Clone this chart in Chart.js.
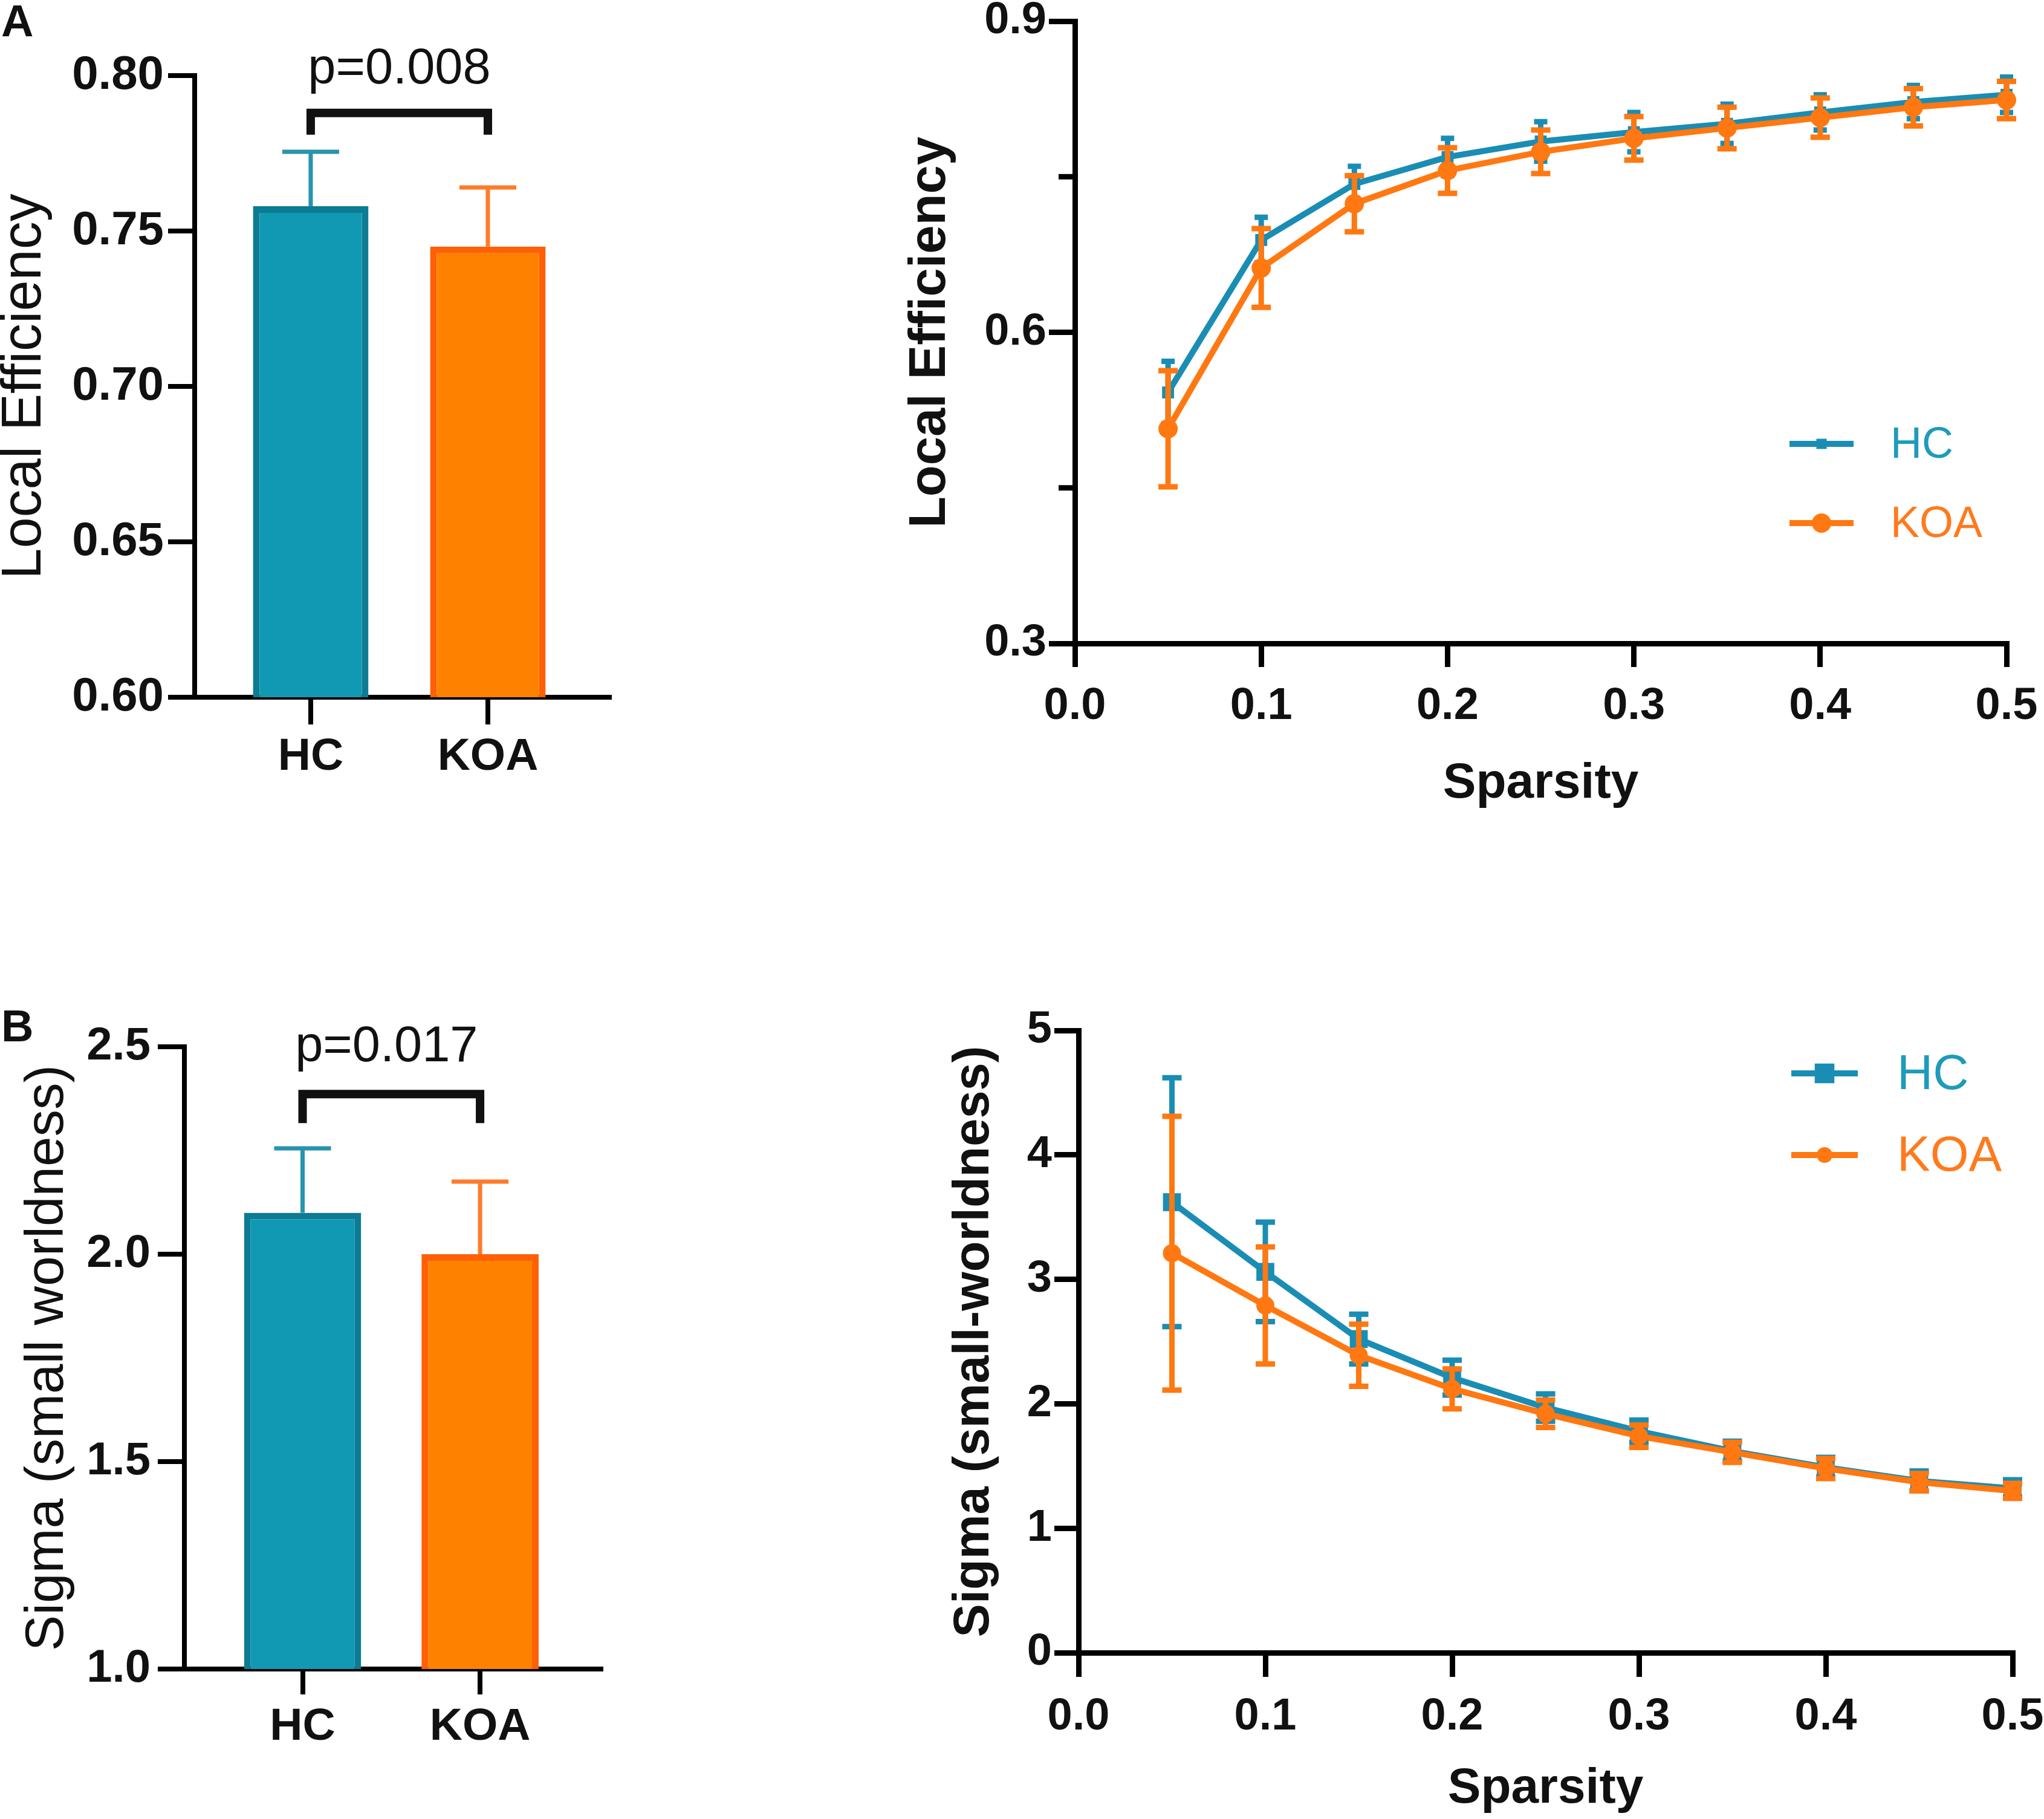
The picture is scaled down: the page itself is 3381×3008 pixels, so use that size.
<!DOCTYPE html>
<html><head><meta charset="utf-8">
<script src="https://cdn.jsdelivr.net/npm/chart.js@4.4.1/dist/chart.umd.min.js"></script>
<style>
html,body{margin:0;padding:0;background:#fff;overflow:hidden;width:3381px;height:3008px;position:relative;}
canvas{position:absolute;left:-300px;top:-300px;width:3981px;height:3608px;}
</style></head><body>
<canvas id="aBar" width="3981" height="3608"></canvas>
<canvas id="aLine" width="3981" height="3608"></canvas>
<canvas id="bBar" width="3981" height="3608"></canvas>
<canvas id="bLine" width="3981" height="3608"></canvas>
<script>
// ---------------- data ----------------
const groups = ['HC', 'KOA'];
const groupPos = [1, 2];
const leBarMean = [0.758, 0.745];
const leBarSD = [0.0175, 0.019];
const sigmaBarMean = [2.10, 2.00];
const sigmaBarSD = [0.155, 0.175];
const pLE = 'p=0.008';
const pSigma = 'p=0.017';

const sparsity = [0.05, 0.10, 0.15, 0.20, 0.25, 0.30, 0.35, 0.40, 0.45, 0.50];
const leHC = [0.542, 0.689, 0.743, 0.769, 0.784, 0.793, 0.801, 0.812, 0.822, 0.829];
const leHCsd = [0.030, 0.022, 0.017, 0.018, 0.019, 0.019, 0.019, 0.017, 0.016, 0.017];
const leKOA = [0.507, 0.662, 0.724, 0.756, 0.774, 0.787, 0.797, 0.807, 0.817, 0.824];
const leKOAsd = [0.056, 0.038, 0.027, 0.022, 0.021, 0.021, 0.020, 0.019, 0.018, 0.018];
const sigHC = [3.62, 3.06, 2.52, 2.21, 1.97, 1.78, 1.62, 1.49, 1.38, 1.32];
const sigHCsd = [1.00, 0.40, 0.20, 0.14, 0.11, 0.09, 0.08, 0.08, 0.08, 0.07];
const sigKOA = [3.21, 2.79, 2.39, 2.12, 1.92, 1.74, 1.61, 1.48, 1.37, 1.30];
const sigKOAsd = [1.10, 0.47, 0.25, 0.16, 0.11, 0.09, 0.08, 0.08, 0.07, 0.06];

const leBarTicks = [0.60, 0.65, 0.70, 0.75, 0.80];
const sigBarTicks = [1.0, 1.5, 2.0, 2.5];
const leLineTicks = [0.3, 0.6, 0.9];
const leLineMinor = [0.45, 0.75];
const sigLineTicks = [0, 1, 2, 3, 4, 5];
const sparsityTicks = [0.0, 0.1, 0.2, 0.3, 0.4, 0.5];

// ---------------- styles ----------------
const FONT = '"Liberation Sans", Arial, Helvetica, sans-serif';
const INK = '#111111';
const C = {
  hcFill: '#1199b4', hcBorder: '#0c7b93', hcErr: '#2794ad',
  koaFill: '#ff8100', koaBorder: '#ff5f05', koaErr: '#ff7b2a',
  hcLine: '#1a8db4', koaLine: '#ff7811', hcText: '#1e9bbb', koaText: '#ff7a1c'
};
const OFF = 300, CW = 3981, CH = 3608;

function frame(area, yTitle, xTitle) {
  const yW = area.l + 100;
  const xH = 300;
  return {
    layout: { padding: { left: OFF - 100, top: area.t + OFF, right: CW - (area.r + OFF), bottom: CH - (area.b + OFF) - xH } },
    yW, xH,
    yTitlePad: yTitle.x + 100 - yTitle.size * 1.2 / 2,
    xTitlePad: xTitle ? (area.b + xH) - xTitle.y - xTitle.size * 1.2 / 2 : 0
  };
}

// ---------------- plugins ----------------
const errorBars = {
  id: 'errorBars',
  afterDatasetDraw(chart, args) {
    const ds = chart.data.datasets[args.index];
    if (!ds.errors) return;
    const ctx = chart.ctx, yS = chart.scales.y;
    ctx.save();
    ctx.lineCap = 'butt';
    args.meta.data.forEach((el, i) => {
      const mean = ds.data[i].y, e = ds.errors[i];
      const col = Array.isArray(ds.errColor) ? ds.errColor[i] : ds.errColor;
      ctx.strokeStyle = col;
      ctx.lineWidth = ds.errWidth;
      const x = el.x;
      const yTop = yS.getPixelForValue(mean + e);
      const yMid = yS.getPixelForValue(mean);
      const yBot = ds.upOnly ? yMid : yS.getPixelForValue(mean - e);
      ctx.beginPath();
      ctx.moveTo(x, yBot); ctx.lineTo(x, yTop);
      ctx.moveTo(x - ds.capHalf, yTop); ctx.lineTo(x + ds.capHalf, yTop);
      if (!ds.upOnly) { ctx.moveTo(x - ds.capHalf, yBot); ctx.lineTo(x + ds.capHalf, yBot); }
      ctx.stroke();
    });
    ctx.restore();
  }
};

const sigBracket = {
  id: 'sigBracket',
  afterDraw(chart, args, o) {
    if (!o || !o.text) return;
    const ctx = chart.ctx, xS = chart.scales.x, yS = chart.scales.y;
    const xl = xS.getPixelForValue(groupPos[0]), xr = xS.getPixelForValue(groupPos[1]);
    const yb = yS.getPixelForValue(o.y), yl = yS.getPixelForValue(o.leg);
    ctx.save();
    ctx.strokeStyle = INK; ctx.lineWidth = o.lineWidth; ctx.lineJoin = 'miter'; ctx.lineCap = 'butt';
    ctx.beginPath();
    ctx.moveTo(xl, yl); ctx.lineTo(xl, yb); ctx.lineTo(xr, yb); ctx.lineTo(xr, yl);
    ctx.stroke();
    ctx.fillStyle = INK; ctx.font = `400 ${o.size}px ${FONT}`;
    ctx.textAlign = 'center'; ctx.textBaseline = 'alphabetic';
    ctx.fillText(o.text, (xl + xr) / 2 + (o.dx || 0), yS.getPixelForValue(o.textY));
    ctx.restore();
  }
};

const panelLetter = {
  id: 'panelLetter',
  afterDraw(chart, args, o) {
    if (!o || !o.text) return;
    const ctx = chart.ctx;
    ctx.save();
    ctx.fillStyle = INK; ctx.font = `700 ${o.size}px ${FONT}`;
    ctx.textAlign = 'left'; ctx.textBaseline = 'alphabetic';
    ctx.fillText(o.text, o.x + OFF, o.y + OFF);
    ctx.restore();
  }
};

const minorTicks = {
  id: 'minorTicks',
  afterDraw(chart, args, o) {
    if (!o || !o.values) return;
    const ctx = chart.ctx, yS = chart.scales.y, left = chart.chartArea.left;
    ctx.save();
    ctx.strokeStyle = '#000'; ctx.lineWidth = o.width;
    o.values.forEach(v => {
      const y = yS.getPixelForValue(v);
      ctx.beginPath(); ctx.moveTo(left - o.len, y); ctx.lineTo(left, y); ctx.stroke();
    });
    ctx.restore();
  }
};

const seriesLegend = {
  id: 'seriesLegend',
  afterDraw(chart, args, o) {
    if (!o || !o.ys) return;
    const ctx = chart.ctx;
    ctx.save();
    chart.data.datasets.forEach((ds, i) => {
      const y = o.ys[i] + OFF, x1 = o.x1 + OFF, x2 = o.x2 + OFF, xm = (x1 + x2) / 2;
      ctx.strokeStyle = ds.borderColor; ctx.lineWidth = o.lineWidth;
      ctx.beginPath(); ctx.moveTo(x1, y); ctx.lineTo(x2, y); ctx.stroke();
      ctx.fillStyle = ds.borderColor;
      const r = o.markerR[i];
      if (ds.pointStyle === 'rect') {
        const s = Math.SQRT1_2 * r;
        ctx.fillRect(xm - s, y - s, 2 * s, 2 * s);
      } else {
        ctx.beginPath(); ctx.arc(xm, y, r, 0, Math.PI * 2); ctx.fill();
      }
      ctx.fillStyle = ds.textColor;
      ctx.font = `400 ${o.size}px ${FONT}`;
      ctx.textAlign = 'left'; ctx.textBaseline = 'middle';
      ctx.fillText(ds.label, o.textX + OFF, y + 3);
    });
    ctx.restore();
  }
};

const PLUGINS = [errorBars, sigBracket, panelLetter, minorTicks, seriesLegend];

function axisCommon(lw, tickLen) {
  return {
    offset: false,
    grid: { display: true, offset: false, drawOnChartArea: false, drawTicks: true, tickLength: tickLen, lineWidth: lw, tickWidth: lw, color: '#000', tickColor: '#000' },
    border: { display: true, color: '#000', width: lw }
  };
}

// ---------------- bar chart builder ----------------
function barChart(id, cfg) {
  const f = frame(cfg.area, cfg.yTitle, null);
  return new Chart(document.getElementById(id), {
    type: 'bar',
    data: {
      datasets: [{
        label: cfg.yTitle.text,
        data: groupPos.map((p, i) => ({ x: p, y: cfg.means[i] })),
        errors: cfg.sds,
        upOnly: true,
        errColor: [C.hcErr, C.koaErr],
        errWidth: 7,
        capHalf: 47,
        backgroundColor: [C.hcFill, C.koaFill],
        borderColor: [C.hcBorder, C.koaBorder],
        borderWidth: 11,
        barPercentage: cfg.barPct,
        categoryPercentage: 1
      }]
    },
    options: {
      responsive: false, animation: false, devicePixelRatio: 1, events: [],
      layout: f.layout,
      plugins: {
        legend: { display: false }, tooltip: { enabled: false },
        sigBracket: cfg.bracket,
        panelLetter: cfg.letter
      },
      scales: {
        x: Object.assign(axisCommon(8, cfg.xTickLen), {
          type: 'linear', min: cfg.xMin, max: cfg.xMax,
          afterBuildTicks: s => { s.ticks = groupPos.map(v => ({ value: v })); },
          afterFit: s => { s.height = f.xH; },
          ticks: { callback: (v, i) => groups[i], font: { family: FONT, size: 75, weight: '700' }, color: INK, padding: cfg.xPad, maxRotation: 0, autoSkip: false }
        }),
        y: Object.assign(axisCommon(8, cfg.yTickLen), {
          type: 'linear', min: cfg.yMin, max: cfg.yMax,
          afterBuildTicks: s => { s.ticks = cfg.yTicks.map(v => ({ value: v })); },
          afterFit: s => { s.width = f.yW; },
          ticks: { callback: v => v.toFixed(cfg.yDec), font: { family: FONT, size: cfg.yFont, weight: '700' }, color: INK, padding: cfg.yPad },
          title: { display: true, text: cfg.yTitle.text, color: INK, font: { family: FONT, size: cfg.yTitle.size, weight: '400' }, padding: { top: f.yTitlePad, bottom: 0 } }
        })
      }
    },
    plugins: PLUGINS
  });
}

// ---------------- line chart builder ----------------
function lineChart(id, cfg) {
  const f = frame(cfg.area, cfg.yTitle, cfg.xTitle);
  const mk = (label, vals, sds, color, textColor, style, r, cap, order) => ({
    label, order,
    data: sparsity.map((s, i) => ({ x: s, y: vals[i] })),
    errors: sds, errColor: color, errWidth: 9, capHalf: cap, upOnly: false,
    borderColor: color, backgroundColor: color, textColor,
    borderWidth: 10, tension: 0, clip: false,
    pointStyle: style, pointRadius: r, pointBorderWidth: 0, pointBackgroundColor: color
  });
  return new Chart(document.getElementById(id), {
    type: 'line',
    data: {
      datasets: [
        mk('HC', cfg.hc, cfg.hcSd, C.hcLine, C.hcText, 'rect', cfg.hcR, cfg.hcCap, 2),
        mk('KOA', cfg.koa, cfg.koaSd, C.koaLine, C.koaText, 'circle', cfg.koaR, cfg.koaCap, 1)
      ]
    },
    options: {
      responsive: false, animation: false, devicePixelRatio: 1, events: [],
      layout: f.layout,
      plugins: {
        legend: { display: false }, tooltip: { enabled: false },
        seriesLegend: cfg.legend,
        minorTicks: cfg.minor
      },
      scales: {
        x: Object.assign(axisCommon(9, cfg.xTickLen), {
          type: 'linear', min: 0, max: 0.5,
          afterBuildTicks: s => { s.ticks = sparsityTicks.map(v => ({ value: v })); },
          afterFit: s => { s.height = f.xH; },
          ticks: { callback: v => v.toFixed(1), font: { family: FONT, size: 74, weight: '700' }, color: INK, padding: cfg.xPad, maxRotation: 0, autoSkip: false },
          title: { display: true, text: 'Sparsity', color: INK, font: { family: FONT, size: cfg.xTitle.size, weight: '700' }, padding: { top: 0, bottom: f.xTitlePad } }
        }),
        y: Object.assign(axisCommon(9, cfg.yTickLen), {
          type: 'linear', min: cfg.yMin, max: cfg.yMax,
          afterBuildTicks: s => { s.ticks = cfg.yTicks.map(v => ({ value: v })); },
          afterFit: s => { s.width = f.yW; },
          ticks: { callback: v => v.toFixed(cfg.yDec), font: { family: FONT, size: 74, weight: '700' }, color: INK, padding: cfg.yPad },
          title: { display: true, text: cfg.yTitle.text, color: INK, font: { family: FONT, size: cfg.yTitle.size, weight: '700' }, padding: { top: f.yTitlePad, bottom: 0 } }
        })
      }
    },
    plugins: PLUGINS
  });
}

// ---------------- panel A ----------------
barChart('aBar', {
  area: { l: 322, r: 1008, t: 125, b: 1153 },
  yTitle: { text: 'Local Efficiency', x: 42, size: 92 },
  means: leBarMean, sds: leBarSD,
  xMin: 0.345, xMax: 2.686, barPct: 0.652,
  yMin: 0.6, yMax: 0.8, yTicks: leBarTicks, yDec: 2, yFont: 78,
  yTickLen: 44, yPad: 7, xTickLen: 45, xPad: 9,
  bracket: { y: 0.788, leg: 0.781, textY: 0.7975, text: pLE, size: 83, lineWidth: 14 },
  letter: { text: 'A', x: 2, y: 60, size: 74 }
});

lineChart('aLine', {
  area: { l: 1778, r: 3319, t: 35, b: 1064 },
  yTitle: { text: 'Local Efficiency', x: 1540, size: 85 },
  xTitle: { y: 1296, size: 82 },
  hc: leHC, hcSd: leHCsd, koa: leKOA, koaSd: leKOAsd,
  hcR: 14, koaR: 16, hcCap: 11, koaCap: 16,
  yMin: 0.3, yMax: 0.9, yTicks: leLineTicks, yDec: 1,
  yTickLen: 43, yPad: 4, xTickLen: 39, xPad: 21,
  minor: { values: leLineMinor, len: 27, width: 9 },
  legend: { x1: 2960, x2: 3066, ys: [734, 865], textX: 3127, size: 72, lineWidth: 10, markerR: [12, 16] }
});

// ---------------- panel B ----------------
barChart('bBar', {
  area: { l: 305, r: 994, t: 1731, b: 2760 },
  yTitle: { text: 'Sigma (small worldness)', x: 79, size: 89 },
  means: sigmaBarMean, sds: sigmaBarSD,
  xMin: 0.334, xMax: 2.681, barPct: 0.66,
  yMin: 1.0, yMax: 2.5, yTicks: sigBarTicks, yDec: 1, yFont: 76,
  yTickLen: 44, yPad: 12, xTickLen: 42, xPad: 9,
  bracket: { y: 2.386, leg: 2.316, textY: 2.465, text: pSigma, size: 83, lineWidth: 14, dx: -8 },
  letter: { text: 'B', x: 2, y: 1722, size: 74 }
});

lineChart('bLine', {
  area: { l: 1784, r: 3329, t: 1704, b: 2733 },
  yTitle: { text: 'Sigma (small-worldness)', x: 1612, size: 83 },
  xTitle: { y: 2958, size: 82 },
  hc: sigHC, hcSd: sigHCsd, koa: sigKOA, koaSd: sigKOAsd,
  hcR: 21, koaR: 15, hcCap: 16, koaCap: 16,
  yMin: 0, yMax: 5, yTicks: sigLineTicks, yDec: 0,
  yTickLen: 40, yPad: 4, xTickLen: 40, xPad: 22,
  minor: null,
  legend: { x1: 2963, x2: 3073, ys: [1775, 1910], textX: 3138, size: 82, lineWidth: 10, markerR: [23, 13] }
});
</script>
</body></html>
